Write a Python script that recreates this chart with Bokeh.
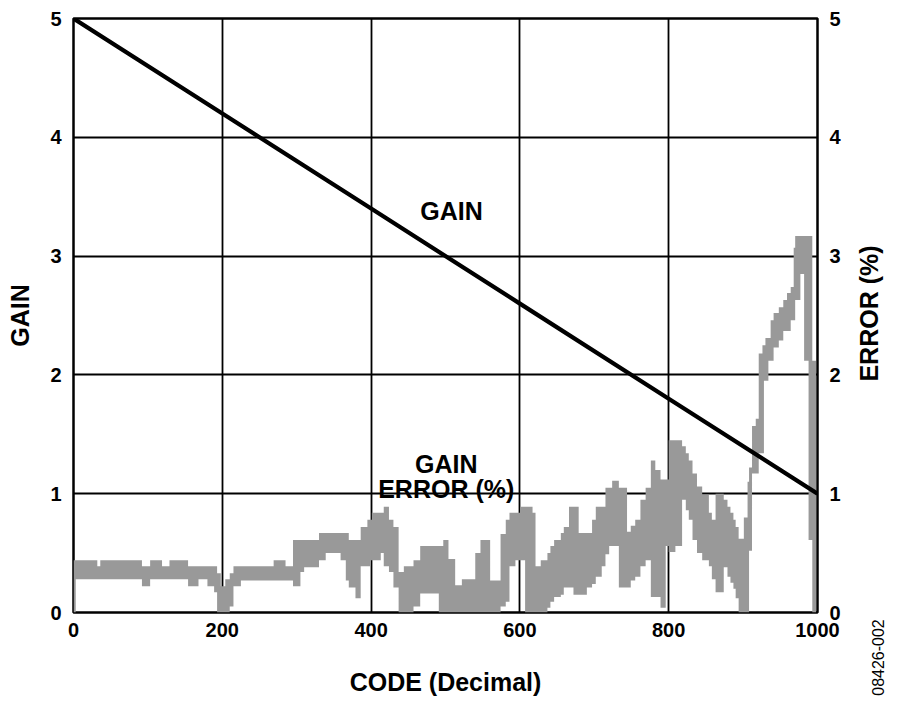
from math import pi
from bokeh.plotting import figure
from bokeh.models import Range1d, LinearAxis, FixedTicker, Label, ColumnDataSource
from bokeh.embed import file_html
from bokeh.resources import INLINE

FONT = "Liberation Sans"

# ---- data ----
x_ticks = [0, 200, 400, 600, 800, 1000]
y_ticks = [0, 1, 2, 3, 4, 5]

gain_code = [0, 200, 400, 600, 800, 1000]
gain_value = [5.0, 4.2, 3.4, 2.6, 1.8, 1.0]

# gain error band (%), stepped: lower / upper envelope from each code onward
err_code = [0, 3, 32, 36, 92, 103, 119, 129, 154, 168,
            180, 189, 193, 198, 204, 210, 215, 225, 269, 285,
            295, 305, 310, 330, 339, 359, 366, 370, 379, 386,
            395, 399, 401, 413, 417, 424, 430, 437, 444, 457,
            466, 491, 497, 504, 513, 522, 540, 547, 560, 574,
            581, 586, 594, 601, 607, 617, 621, 628, 637, 641,
            646, 655, 659, 666, 672, 679, 690, 697, 702, 710,
            715, 720, 724, 733, 744, 749, 755, 762, 769, 776,
            782, 789, 796, 800, 809, 818, 823, 827, 832, 838,
            845, 854, 858, 863, 874, 879, 883, 887, 890, 894,
            901, 906, 908, 912, 917, 921, 926, 928, 930, 934,
            937, 941, 948, 954, 959, 964, 968, 970, 977, 982,
            988, 993, 998]
err_upper = [0.44, 0.44, 0.39, 0.44, 0.39, 0.44, 0.39, 0.44, 0.39, 0.39,
             0.39, 0.39, 0.33, 0.22, 0.28, 0.33, 0.39, 0.39, 0.44, 0.39,
             0.61, 0.61, 0.61, 0.67, 0.67, 0.67, 0.67, 0.61, 0.61, 0.72,
             0.78, 0.78, 0.84, 0.84, 0.89, 0.78, 0.72, 0.34, 0.39, 0.44,
             0.56, 0.56, 0.61, 0.45, 0.23, 0.28, 0.50, 0.61, 0.27, 0.66,
             0.78, 0.84, 0.84, 0.89, 0.89, 0.84, 0.39, 0.44, 0.50, 0.56,
             0.61, 0.67, 0.72, 0.89, 0.89, 0.67, 0.67, 0.78, 0.89, 0.89,
             1.05, 1.05, 1.11, 1.05, 0.68, 0.73, 0.78, 0.95, 1.05, 1.28,
             1.20, 1.12, 1.12, 1.45, 1.45, 1.40, 1.34, 1.28, 1.17, 1.06,
             0.99, 0.84, 0.78, 1.00, 0.95, 0.89, 0.84, 0.78, 0.72, 0.62,
             0.80, 1.10, 1.22, 1.57, 1.63, 2.18, 2.25, 2.25, 2.31, 2.31,
             2.46, 2.52, 2.57, 2.63, 2.69, 2.74, 3.07, 3.17, 3.17, 3.17,
             3.17, 2.12, 2.12]
err_lower = [0.00, 0.28, 0.28, 0.28, 0.22, 0.28, 0.28, 0.28, 0.22, 0.28,
             0.22, 0.17, 0.00, 0.00, 0.00, 0.05, 0.22, 0.27, 0.27, 0.27,
             0.22, 0.34, 0.38, 0.44, 0.50, 0.44, 0.27, 0.21, 0.12, 0.39,
             0.39, 0.44, 0.44, 0.50, 0.39, 0.34, 0.21, 0.00, 0.00, 0.05,
             0.16, 0.00, 0.00, 0.00, 0.00, 0.00, 0.00, 0.00, 0.00, 0.05,
             0.09, 0.39, 0.44, 0.44, 0.00, 0.00, 0.00, 0.00, 0.04, 0.09,
             0.13, 0.15, 0.21, 0.21, 0.15, 0.15, 0.21, 0.24, 0.30, 0.39,
             0.49, 0.56, 0.56, 0.21, 0.21, 0.27, 0.30, 0.39, 0.44, 0.13,
             0.13, 0.04, 0.56, 0.51, 0.56, 0.95, 0.86, 0.78, 0.61, 0.50,
             0.44, 0.39, 0.28, 0.17, 0.38, 0.30, 0.25, 0.20, 0.12, 0.00,
             0.00, 0.00, 0.52, 1.17, 1.17, 1.34, 1.34, 1.95, 1.95, 2.12,
             2.12, 2.23, 2.29, 2.37, 2.37, 2.46, 2.46, 2.63, 2.85, 2.12,
             0.61, 0.00, 0.00]

# ---- figure ----
p = figure(width=900, height=705,
           x_range=Range1d(0, 1000), y_range=Range1d(0, 5),
           output_backend="svg", toolbar_location=None,
           min_border_left=73, min_border_right=83,
           min_border_top=18, min_border_bottom=93)
p.extra_y_ranges = {"err": Range1d(0, 5)}
p.background_fill_color = "white"
p.border_fill_color = "white"
p.outline_line_color = "black"
p.outline_line_width = 2.5

right_axis = LinearAxis(y_range_name="err")
p.add_layout(right_axis, "right")

p.xaxis.ticker = FixedTicker(ticks=x_ticks)
p.yaxis.ticker = FixedTicker(ticks=y_ticks)

for ax in [p.xaxis[0], p.yaxis[0], right_axis]:
    ax.axis_line_color = None
    ax.major_tick_line_color = None
    ax.minor_tick_line_color = None
    ax.major_tick_out = 0
    ax.major_tick_in = 0
    ax.major_label_text_font = FONT
    ax.major_label_text_font_style = "bold"
    ax.major_label_text_font_size = "20px"
    ax.major_label_text_color = "black"
    ax.axis_label_text_font = FONT
    ax.axis_label_text_font_style = "bold"
    ax.axis_label_text_font_size = "25px"
    ax.axis_label_text_color = "black"

p.xaxis.axis_label = "CODE (Decimal)"
p.xaxis.major_label_standoff = 10
p.xaxis.axis_label_standoff = 28
p.yaxis[0].axis_label = "GAIN"
p.yaxis[0].major_label_standoff = 12
p.yaxis[0].axis_label_standoff = 13
right_axis.major_label_standoff = 12

for g in (p.xgrid[0], p.ygrid[0]):
    g.grid_line_color = "black"
    g.grid_line_width = 1.8
p.xgrid.ticker = FixedTicker(ticks=x_ticks)
p.ygrid.ticker = FixedTicker(ticks=y_ticks)

# error band
src = ColumnDataSource(dict(x=err_code, y1=err_lower, y2=err_upper))
p.varea_step(x="x", y1="y1", y2="y2", step_mode="after", source=src,
             fill_color="#999999", y_range_name="err")

# gain line
p.line(gain_code, gain_value, line_color="black", line_width=4.2)

def lab(x, y, t, size="25px", style="bold", angle=0.0, **kw):
    return Label(x=x, y=y, text=t, text_font=FONT, text_font_size=size,
                 text_font_style=style, text_color="black",
                 text_align="center", text_baseline="middle",
                 angle=angle, angle_units="rad", **kw)

p.add_layout(lab(508, 3.38, "GAIN"))
p.add_layout(lab(501, 1.25, "GAIN"))
p.add_layout(lab(501, 1.04, "ERROR (%)"))

# right-hand texts, outside the frame in the right panel (read bottom to top)
p.add_layout(lab(25, 299, "ERROR (%)", angle=pi / 2,
                 x_units="screen", y_units="screen"), "right")
p.add_layout(lab(6.5, -45, "08426-002", size="16px", style="normal", angle=pi / 2,
                 x_units="screen", y_units="screen"), "right")

open("out.html", "w").write(file_html(p, INLINE))
